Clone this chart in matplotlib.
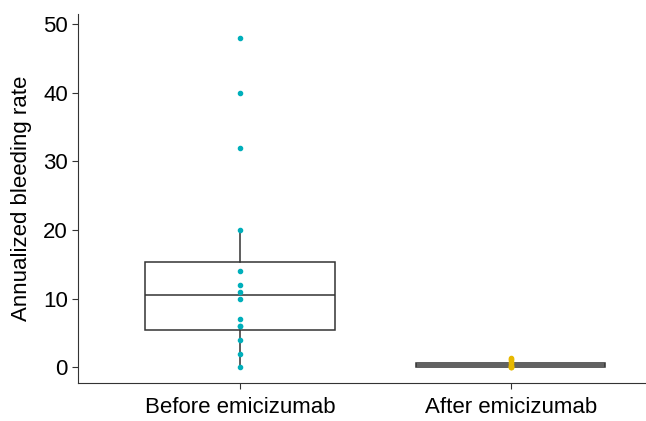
import matplotlib
matplotlib.use("Agg")
import matplotlib.pyplot as plt

plt.rcParams['font.family'] = ['Liberation Sans', 'DejaVu Sans']

groups = ['Before emicizumab', 'After emicizumab']
before = [0, 2, 4, 6, 6, 7, 10, 11, 12, 14, 20, 32, 40, 48]
after = [0, 0, 0, 0.2, 0.4, 0.6, 0.8, 1.0, 1.2, 1.4]

# box stats
box_before = dict(med=10.5, q1=5.5, q3=15.4, whislo=0, whishi=20, fliers=[])
box_after = dict(med=0.3, q1=0.0, q3=0.6, whislo=0, whishi=0.6, fliers=[])

colors = ['#00AFBB', '#E7B800']

fig, ax = plt.subplots(figsize=(6.46, 4.21), dpi=100)
fig.subplots_adjust(left=0.12, right=1.0, bottom=0.09, top=0.967)

ax.bxp([box_before, box_after], positions=[1, 2], widths=0.70,
       showcaps=False, showfliers=False, patch_artist=True,
       boxprops=dict(facecolor='white', edgecolor='#333333', linewidth=1.1),
       medianprops=dict(color='#333333', linewidth=1.1),
       whiskerprops=dict(color='#333333', linewidth=1.1))

ax.scatter([1] * len(before), before, s=9, color=colors[0], zorder=3)
ax.scatter([2] * len(after), after, s=9, color=colors[1], zorder=3)

ax.set_xlim(0.4, 2.5)
ax.set_ylim(-2.3, 51.5)
ax.set_yticks([0, 10, 20, 30, 40, 50])
ax.set_xticks([1, 2])
ax.set_xticklabels(groups)
ax.set_ylabel('Annualized bleeding rate', fontsize=16, labelpad=8)
ax.tick_params(labelsize=16, color='#333333', length=4, pad=3)
ax.tick_params(axis='x', pad=6)
for s in ['top', 'right']:
    ax.spines[s].set_visible(False)
for s in ['left', 'bottom']:
    ax.spines[s].set_color('#333333')

plt.savefig('out.png')
